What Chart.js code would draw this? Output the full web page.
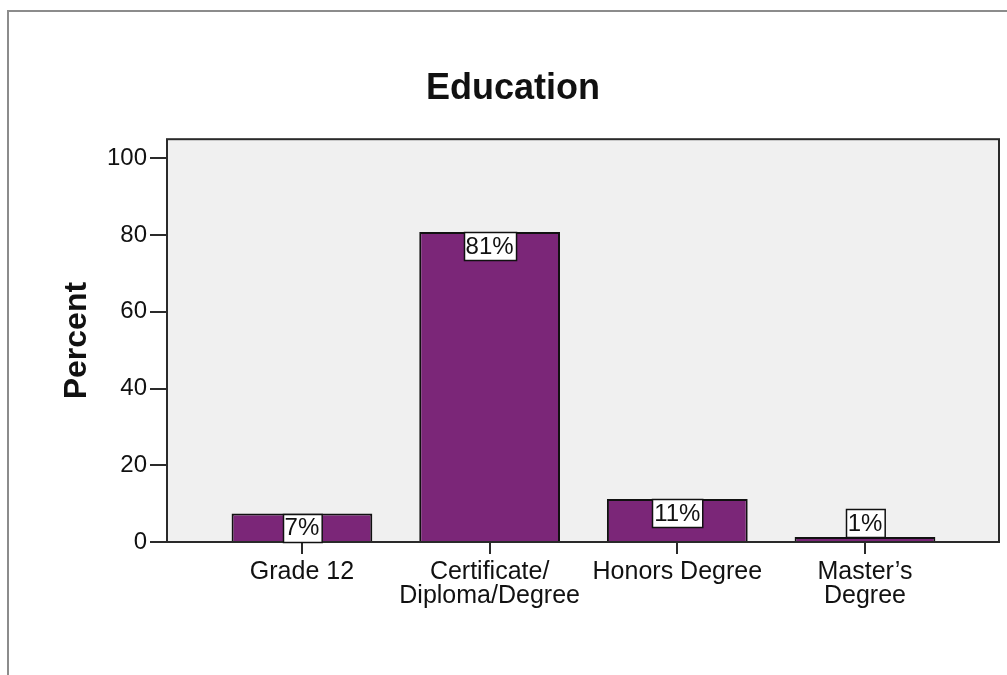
<!DOCTYPE html>
<html>
<head>
<meta charset="utf-8">
<script src="https://cdn.jsdelivr.net/npm/chart.js@4/dist/chart.umd.min.js"></script>
<style>
  html, body { margin: 0; padding: 0; background: #fff; overflow: hidden; }
  #wrap { position: relative; width: 1007px; height: 675px; }
  #frame { position: absolute; left: 7px; top: 10px; width: 1100px; height: 700px;
           border-left: 2px solid #8c8c8c; border-top: 2px solid #8c8c8c; pointer-events: none; }
  canvas { position: absolute; left: 0; top: 0; }
</style>
</head>
<body>
<div id="wrap">
  <canvas id="c" width="1007" height="675"></canvas>
  <div id="frame"></div>
</div>
<script>
// ---- data ----
const categories = ["Grade 12", ["Certificate/", "Diploma/Degree"], "Honors Degree", ["Master\u2019s", "Degree"]];
const percentValues = [7.4, 80.8, 11.2, 1.3];
const yTickValues = [0, 20, 40, 60, 80, 100];
const chartTitle = "Education";
const yAxisTitle = "Percent";

const FONT = "'Liberation Sans', Arial, sans-serif";
const BAR_COLOR = "#7b2678";

const plotFrame = {
  id: 'plotFrame',
  beforeDraw(chart) {
    const {ctx, chartArea: a} = chart;
    ctx.save();
    ctx.fillStyle = '#f0f0f0';
    ctx.fillRect(a.left, a.top, a.right - a.left, a.bottom - a.top);
    ctx.restore();
  },
  afterDatasetsDraw(chart) {
    const {ctx, chartArea: a} = chart;
    ctx.save();
    ctx.strokeStyle = '#2a2a2a';
    ctx.lineWidth = 2;
    ctx.strokeRect(a.left, a.top, a.right - a.left, a.bottom - a.top);
    // value labels
    const meta = chart.getDatasetMeta(0);
    ctx.font = "24px " + FONT;
    ctx.textAlign = 'center';
    ctx.textBaseline = 'middle';
    const boxH = 28;
    meta.data.forEach((bar, i) => {
      const txt = Math.round(percentValues[i]) + '%';
      const w = ctx.measureText(txt).width + 4;
      const barH = bar.base - bar.y;
      const top = barH >= 20 ? bar.y : bar.y - boxH;
      const left = Math.round(bar.x - w / 2) + 0.5;
      ctx.fillStyle = '#ffffff';
      ctx.fillRect(left, Math.round(top) + 0.5, w, boxH);
      ctx.strokeStyle = '#111';
      ctx.lineWidth = 1.5;
      ctx.strokeRect(left, Math.round(top) + 0.5, w, boxH);
      ctx.fillStyle = '#111';
      ctx.fillText(txt, bar.x, top + boxH / 2 + 1);
    });
    ctx.restore();
  }
};

new Chart(document.getElementById('c'), {
  type: 'bar',
  data: {
    datasets: [{
      data: percentValues.map((v, i) => ({x: i, y: v})),
      backgroundColor: BAR_COLOR,
      borderColor: '#111111',
      borderWidth: 2,
      barPercentage: 0.75,
      categoryPercentage: 1.0
    }]
  },
  options: {
    responsive: false,
    animation: false,
    devicePixelRatio: 1,
    layout: { padding: { left: 27, right: 8, top: 10, bottom: 53 } },
    plugins: {
      legend: { display: false },
      tooltip: { enabled: false },
      title: {
        display: true,
        text: chartTitle,
        color: '#111',
        font: { family: FONT, size: 36, weight: 'bold', lineHeight: 1.2 },
        padding: { top: 57, bottom: 29 }
      }
    },
    scales: {
      x: {
        type: 'linear',
        offset: false,
        min: -0.719,
        max: 3.714,
        afterBuildTicks: s => { s.ticks = categories.map((c, i) => ({value: i})); },
        afterFit: s => { s.height = 80; },
        ticks: {
          autoSkip: false,
          maxRotation: 0,
          padding: 6,
          color: '#111',
          font: { family: FONT, size: 25, lineHeight: 0.95 },
          callback: (v) => categories[v]
        },
        grid: { offset: false, drawOnChartArea: false, drawTicks: true, tickLength: 12, color: '#2a2a2a', lineWidth: 2 },
        border: { display: false }
      },
      y: {
        min: 0,
        max: 105,
        afterBuildTicks: s => { s.ticks = yTickValues.map(v => ({value: v})); },
        afterFit: s => { s.width = 140; },
        title: {
          display: true,
          text: yAxisTitle,
          color: '#111',
          font: { family: FONT, size: 32, weight: 'bold', lineHeight: 1.2 },
          padding: { top: 31, bottom: 0 }
        },
        ticks: {
          padding: 3,
          color: '#111',
          font: { family: FONT, size: 24 }
        },
        grid: { drawOnChartArea: false, drawTicks: true, tickLength: 17, color: '#2a2a2a', lineWidth: 2 },
        border: { display: false }
      }
    }
  },
  plugins: [plotFrame]
});
</script>
</body>
</html>
